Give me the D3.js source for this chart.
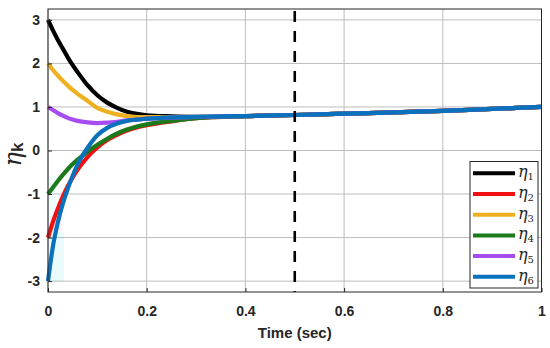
<!DOCTYPE html>
<html><head><meta charset="utf-8">
<script src="https://cdn.jsdelivr.net/npm/d3@7/dist/d3.min.js"></script>
<style>body{margin:0;background:#fff}svg{display:block}</style>
</head><body><svg id="c" width="550" height="348"></svg>
<script>
const time = [0,0.01,0.02,0.03,0.04,0.05,0.06,0.08,0.10,0.12,0.14,0.16,0.18,0.20,0.25,0.30,0.40,0.50,0.60,0.70,0.80,0.90,1.00];
const tail = [0.79,0.815,0.845,0.875,0.91,0.955,1.00];
const eta1 = [3.00,2.76,2.54,2.34,2.14,1.96,1.80,1.50,1.27,1.10,0.98,0.89,0.84,0.81,0.785,0.775].concat(tail);
const eta2 = [-2.00,-1.64,-1.33,-1.06,-0.82,-0.62,-0.44,-0.15,0.07,0.24,0.36,0.46,0.53,0.58,0.67,0.74].concat(tail);
const eta3 = [2.00,1.85,1.72,1.60,1.49,1.39,1.30,1.14,0.98,0.89,0.83,0.79,0.77,0.765,0.765,0.77].concat(tail);
const eta4 = [-1.00,-0.85,-0.70,-0.56,-0.43,-0.31,-0.21,-0.03,0.13,0.27,0.39,0.48,0.55,0.60,0.68,0.74].concat(tail);
const eta5 = [1.00,0.93,0.86,0.80,0.75,0.71,0.68,0.645,0.63,0.64,0.66,0.69,0.71,0.73,0.755,0.77].concat(tail);
const eta6 = [-3.00,-2.20,-1.65,-1.22,-0.88,-0.58,-0.32,0.06,0.35,0.52,0.62,0.68,0.71,0.73,0.76,0.775].concat(tail);
const seriesNames = ["1","2","3","4","5","6"];
const seriesValues = [eta1,eta2,eta3,eta4,eta5,eta6];
const colors = ["#000000","#f01010","#edb120","#1b7a1b","#a64cf0","#0a72bd"];
const xTicks = [0,0.2,0.4,0.6,0.8,1];
const xTickLabels = ["0","0.2","0.4","0.6","0.8","1"];
const yTicks = [-3,-2,-1,0,1,2,3];
const yTickLabels = ["-3","-2","-1","0","1","2","3"];
const switchTime = 0.5;

const svg = d3.select("#c");
const L=48, R=541.5, T=9, B=292;
const x = d3.scaleLinear().domain([0,1]).range([L,R]);
const y = d3.scaleLinear().domain([-3.25,3.25]).range([B,T]);

// faint artifacts
svg.append("rect").attr("x",L).attr("y",176).attr("width",8).attr("height",56).attr("fill","#effcfc");
svg.append("rect").attr("x",L).attr("y",232).attr("width",16).attr("height",50).attr("fill","#e9fbfd");
svg.append("rect").attr("x",L+2).attr("y",217).attr("width",12).attr("height",14).attr("fill","#fdf0f8");

// grid
const g = svg.append("g");
g.selectAll(".gx").data(xTicks).join("line").attr("x1",d=>x(d)).attr("x2",d=>x(d)).attr("y1",T).attr("y2",B).attr("stroke","#bdbdbd").attr("stroke-width",1);
g.selectAll(".gy").data(yTicks).join("line").attr("y1",d=>y(d)).attr("y2",d=>y(d)).attr("x1",L).attr("x2",R).attr("stroke","#bdbdbd").attr("stroke-width",1);

// lines
const line = d3.line().x((d,i)=>x(time[i])).y(d=>y(d)).curve(d3.curveMonotoneX);
svg.append("g").selectAll("path").data(seriesValues).join("path")
  .attr("d",d=>line(d)).attr("fill","none").attr("stroke",(d,i)=>colors[i]).attr("stroke-width",4.2).attr("stroke-linejoin","round");

// dashed line
svg.append("line").attr("x1",x(switchTime)).attr("x2",x(switchTime)).attr("y1",T+2).attr("y2",B)
  .attr("stroke","#000").attr("stroke-width",2.6).attr("stroke-dasharray","11,9");

// axes box
svg.append("rect").attr("x",L).attr("y",T).attr("width",R-L).attr("height",B-T).attr("fill","none").attr("stroke","#262626").attr("stroke-width",1);

// axes (ticks inward)
const xa = svg.append("g").attr("transform",`translate(0,${B})`).call(d3.axisBottom(x).tickValues(xTicks).tickFormat((d,i)=>xTickLabels[i]).tickSize(-4).tickPadding(14));
const ya = svg.append("g").attr("transform",`translate(${L},0)`).call(d3.axisLeft(y).tickValues(yTicks).tickFormat((d,i)=>yTickLabels[i]).tickSize(-4).tickPadding(8));
[xa,ya].forEach(a=>{a.select(".domain").remove();a.selectAll(".tick line").attr("stroke","#262626");
  a.selectAll("text").attr("font-family","Liberation Sans, Arial, sans-serif").attr("font-weight","bold").attr("font-size",14).attr("fill","#262626");});

// axis labels
svg.append("text").attr("x",x(0.5)).attr("y",338).attr("text-anchor","middle")
  .attr("font-family","Liberation Sans, Arial, sans-serif").attr("font-weight","bold").attr("font-size",15).attr("fill","#262626").text("Time (sec)");
const yl = svg.append("text").attr("transform",`translate(21,${y(0)+4}) rotate(-90)`).attr("text-anchor","middle").attr("fill","#262626");
yl.append("tspan").attr("font-family","DejaVu Serif, serif").attr("font-style","italic").attr("font-size",24).text("η");
yl.append("tspan").attr("font-family","Liberation Sans, Arial, sans-serif").attr("font-weight","bold").attr("font-size",17).attr("dy",2).text("k");

// legend
const lg = svg.append("g");
lg.append("rect").attr("x",470).attr("y",161.5).attr("width",68).attr("height",126.5).attr("fill","#fff").attr("stroke","#262626").attr("stroke-width",1);
seriesNames.forEach((n,i)=>{
  const yy = 173.3 + i*20.7;
  lg.append("line").attr("x1",473).attr("x2",515).attr("y1",yy).attr("y2",yy).attr("stroke",colors[i]).attr("stroke-width",4);
  const t = lg.append("text").attr("x",518).attr("y",yy+4).attr("fill","#262626").attr("font-family","DejaVu Serif, serif");
  t.append("tspan").attr("font-style","italic").attr("font-size",16).text("η");
  t.append("tspan").attr("font-size",10).attr("dy",3).text(n);
});
</script></body></html>
